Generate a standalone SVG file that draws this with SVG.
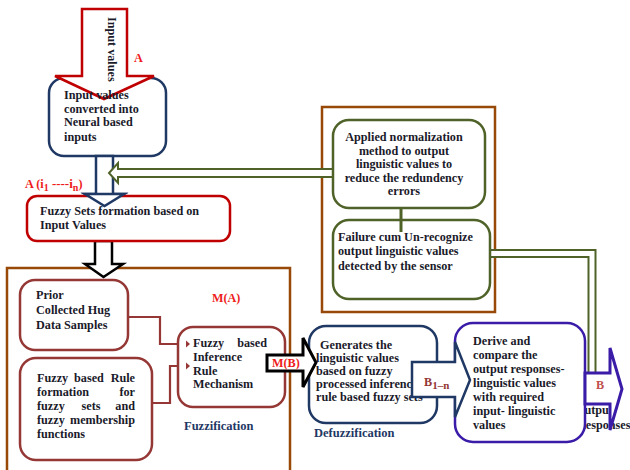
<svg xmlns="http://www.w3.org/2000/svg" width="630" height="470" viewBox="0 0 630 470">
<defs>
<style>
text{font-family:"Liberation Serif","Times New Roman",serif;font-weight:bold;font-size:12.2px;fill:#1a1a2a}
.red{fill:#ee1c1c}
.navyt{fill:#1f3864;font-size:12.5px}
.e{text-anchor:end}
.m{text-anchor:middle}
.box{fill:#fff;stroke-width:2.5}
.navy{stroke:#1f3864}
.rb{stroke:#953735}
.grn{stroke:#4f6228}
.pur{stroke:#3a1ca8}
.crd{stroke:#c00000}
.cont{fill:none;stroke:#984807;stroke-width:2.5}
</style>
<marker id="ah" viewBox="0 0 10 10" refX="9" refY="5" markerWidth="4" markerHeight="4" orient="auto"><path d="M0,0 L10,5 L0,10 z" fill="#953735"/></marker>
<marker id="ag" viewBox="0 0 10 10" refX="9" refY="5" markerWidth="3.5" markerHeight="3.5" orient="auto"><path d="M0,0 L10,5 L0,10 z" fill="#4f6228"/></marker>
</defs>

<g id="containers">
<rect x="7" y="268" width="283" height="205" class="cont"/>
<rect x="322" y="107" width="173" height="205" class="cont"/>
</g>

<g id="output-label">
<text x="575" y="414">Output</text>
<text x="577" y="429">Responses</text>
</g>

<g id="input-box">
<rect x="49" y="78" width="117" height="78" rx="15" class="box navy"/>
</g>

<g id="connectors">
<polygon points="82,9 127,9 127,76 154,76 104,99 55,76 82,76" fill="#fff" stroke="#c00000" stroke-width="2.5"/>
<polygon points="96,156 113,156 113,194 124,194 104.5,206 85,194 96,194" fill="#fff" stroke="#1f3864" stroke-width="2.5"/>
<polygon points="95,241 112,241 112,264 123,264 103.5,277 85,264 95,264" fill="#fff" stroke="#000" stroke-width="2.5"/>
<polygon points="336,169 118,169 118,163 109,173 118,183 118,177 336,177" fill="#fff" stroke="#4f6228" stroke-width="2"/>
<polyline points="490,253.5 592,253.5 592,373" fill="none" stroke="#4f6228" stroke-width="9"/>
<polyline points="489,253.5 592,253.5 592,374" fill="none" stroke="#fff" stroke-width="5"/>
<polyline points="129,317 160,317 160,344 186,344" fill="none" stroke="#953735" stroke-width="2.2" marker-end="url(#ah)"/>
<polyline points="152,403 170,403 170,366 186,366" fill="none" stroke="#953735" stroke-width="2.2" marker-end="url(#ah)"/>
<line x1="401" y1="232" x2="401" y2="195" stroke="#4f6228" stroke-width="3" marker-end="url(#ag)"/>
</g>

<g id="input-text">
<text x="64" y="99">Input values</text>
<text x="64" y="113">converted into</text>
<text x="64" y="126">Neural based</text>
<text x="64" y="141">inputs</text>
<text transform="translate(108,17) rotate(90)" font-size="12">Input values</text>
<text x="134" y="62" class="red" font-size="12">A</text>
<text x="25" y="188" class="red" font-size="16">A (i<tspan font-size="10" dy="3">1</tspan><tspan dy="-3" font-size="13"> ----i</tspan><tspan font-size="10" dy="3">n</tspan><tspan dy="-3">)</tspan></text>
</g>

<g id="fuzzy-sets">
<rect x="27" y="196" width="203" height="45" rx="10" class="box crd"/>
<polygon points="85,194 124,194 104.5,206" fill="#fff" stroke="#1f3864" stroke-width="2.5"/>
<text x="40" y="215">Fuzzy Sets formation based on</text>
<text x="40" y="229">Input Values</text>
</g>

<g id="prior-data">
<rect x="20" y="280" width="108" height="70" rx="15" class="box rb"/>
<text x="36" y="299">Prior</text>
<text x="36" y="314">Collected Hug</text>
<text x="36" y="329">Data Samples</text>
</g>

<g id="rule-formation">
<rect x="20" y="358" width="132" height="102" rx="16" class="box rb"/>
<text x="37" y="382">Fuzzy</text><text x="89" y="382" class="m">based</text><text x="135" y="382" class="e">Rule</text>
<text x="37" y="396">formation</text><text x="135" y="396" class="e">for</text>
<text x="37" y="410">fuzzy</text><text x="91" y="410" class="m">sets</text><text x="135" y="410" class="e">and</text>
<text x="37" y="424">fuzzy</text><text x="135" y="424" class="e">membership</text>
<text x="37" y="438">functions</text>
</g>

<g id="inference">
<rect x="178" y="327" width="107" height="80" rx="15" class="box rb"/>
<polygon points="186,340.5 190,344 186,347.5" fill="#953735"/>
<polygon points="186,362.5 190,366 186,369.5" fill="#953735"/>
<text x="193" y="347">Fuzzy</text><text x="267" y="347" class="e">based</text>
<text x="193" y="361">Inference</text>
<text x="193" y="375">Rule</text>
<text x="193" y="388">Mechanism</text>
<text x="212" y="302" class="red" font-size="12.5">M(A)</text>
<text x="184" y="430" class="navyt">Fuzzification</text>
</g>

<g id="normalization">
<rect x="333" y="120" width="152" height="88" rx="16" class="box grn"/>
<text x="404" y="141" class="m">Applied normalization</text>
<text x="404" y="155" class="m">method to output</text>
<text x="404" y="168" class="m">linguistic values to</text>
<text x="404" y="182" class="m">reduce the redundency</text>
<text x="404" y="195" class="m">errors</text>
</g>

<g id="failure">
<rect x="333" y="220" width="157" height="79" rx="16" class="box grn"/>
<line x1="401" y1="232" x2="401" y2="219" stroke="#4f6228" stroke-width="3"/>
<text x="338" y="241">Failure cum Un-recognize</text>
<text x="338" y="255">output linguistic values</text>
<text x="338" y="270">detected by the sensor</text>
</g>

<g id="defuzzification">
<rect x="309" y="326" width="128" height="97" rx="17" class="box navy"/>
<polygon points="267,355 303,355 303,338 316,362.5 303,387 303,371 267,371" fill="#fff" stroke="#000" stroke-width="3"/>
<text x="272" y="367" class="red" font-size="12.5">M(B)</text>
<text x="320" y="349">Generates the</text>
<text x="316" y="362">linguistic values</text>
<text x="316" y="375">based on fuzzy</text>
<text x="316" y="388">processed inference-</text>
<text x="316" y="401">rule based fuzzy sets</text>
<text x="314" y="437" class="navyt">Defuzzification</text>
</g>

<g id="derive">
<rect x="455" y="323" width="130" height="119" rx="18" class="box pur"/>
<polygon points="412,362 455,362 455,342 470,380 455,417 455,397 412,397" fill="#fff" stroke="#1f3864" stroke-width="2.5"/>
<text x="424" y="386" font-size="17" style="fill:#953735">B<tspan font-size="11" dy="3">1–n</tspan></text>
<text x="473" y="345">Derive and</text>
<text x="473" y="359">compare the</text>
<text x="473" y="373">output responses-</text>
<text x="473" y="387">linguistic values</text>
<text x="473" y="401">with required</text>
<text x="473" y="415">input- linguistic</text>
<text x="473" y="429">values</text>
</g>

<g id="output-arrow">
<polygon points="585,373 610,373 610,348 622,389 610,430 610,404 585,404" fill="#fff" stroke="#3a1ca8" stroke-width="3"/>
<text x="596" y="389" font-size="13" style="fill:#c0504d">B</text>
</g>
</svg>
